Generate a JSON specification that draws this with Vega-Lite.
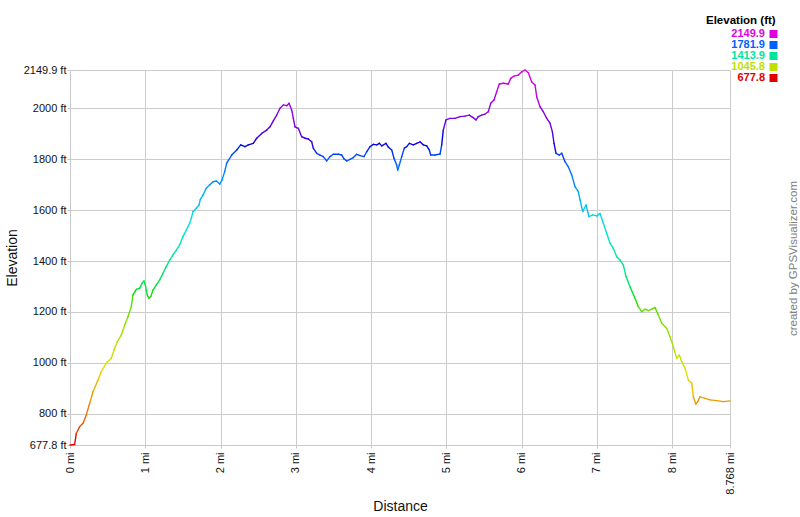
{
  "$schema": "https://vega.github.io/schema/vega-lite/v6.json",
  "width": 660,
  "height": 375,
  "autosize": {"type": "none"},
  "padding": {"left": 70, "top": 70, "right": 70, "bottom": 72},
  "background": "white",
  "config": {
    "font": "Liberation Sans",
    "view": {"stroke": null},
    "axis": {
      "gridColor": "#cccccc",
      "gridWidth": 1,
      "domainColor": "#c8c8c8",
      "tickColor": "#c8c8c8",
      "tickSize": 3,
      "labelFont": "Liberation Sans",
      "labelFontSize": 11,
      "labelColor": "#111111",
      "titleFont": "Liberation Sans",
      "titleFontSize": 14,
      "titleFontWeight": "normal",
      "titleColor": "#111111"
    }
  },
  "data": {
    "values": [
      {"d": 0, "e": 678}, {"d": 0.062, "e": 680}, {"d": 0.084, "e": 724}, {"d": 0.129, "e": 750},
      {"d": 0.173, "e": 763}, {"d": 0.217, "e": 796}, {"d": 0.262, "e": 842}, {"d": 0.306, "e": 887},
      {"d": 0.372, "e": 933}, {"d": 0.416, "e": 966}, {"d": 0.482, "e": 999}, {"d": 0.549, "e": 1018},
      {"d": 0.585, "e": 1051}, {"d": 0.628, "e": 1083}, {"d": 0.682, "e": 1110}, {"d": 0.727, "e": 1149},
      {"d": 0.771, "e": 1182}, {"d": 0.814, "e": 1221}, {"d": 0.837, "e": 1267}, {"d": 0.881, "e": 1289},
      {"d": 0.926, "e": 1293}, {"d": 0.957, "e": 1313}, {"d": 0.983, "e": 1322}, {"d": 1.0, "e": 1306},
      {"d": 1.027, "e": 1267}, {"d": 1.046, "e": 1254}, {"d": 1.072, "e": 1260}, {"d": 1.103, "e": 1286},
      {"d": 1.147, "e": 1306}, {"d": 1.192, "e": 1326}, {"d": 1.236, "e": 1352}, {"d": 1.279, "e": 1378},
      {"d": 1.325, "e": 1404}, {"d": 1.368, "e": 1424}, {"d": 1.412, "e": 1443}, {"d": 1.457, "e": 1463},
      {"d": 1.501, "e": 1496}, {"d": 1.545, "e": 1522}, {"d": 1.59, "e": 1548}, {"d": 1.612, "e": 1568},
      {"d": 1.634, "e": 1594}, {"d": 1.678, "e": 1607}, {"d": 1.714, "e": 1620}, {"d": 1.731, "e": 1642},
      {"d": 1.767, "e": 1659}, {"d": 1.811, "e": 1686}, {"d": 1.856, "e": 1699}, {"d": 1.9, "e": 1711},
      {"d": 1.944, "e": 1714}, {"d": 1.989, "e": 1702}, {"d": 2.019, "e": 1718}, {"d": 2.055, "e": 1751},
      {"d": 2.082, "e": 1784}, {"d": 2.148, "e": 1816}, {"d": 2.215, "e": 1836}, {"d": 2.268, "e": 1856},
      {"d": 2.325, "e": 1849}, {"d": 2.369, "e": 1856}, {"d": 2.435, "e": 1862}, {"d": 2.48, "e": 1882},
      {"d": 2.547, "e": 1901}, {"d": 2.613, "e": 1914}, {"d": 2.657, "e": 1927}, {"d": 2.701, "e": 1950},
      {"d": 2.746, "e": 1973}, {"d": 2.79, "e": 2000}, {"d": 2.834, "e": 2013}, {"d": 2.879, "e": 2010},
      {"d": 2.91, "e": 2019}, {"d": 2.945, "e": 1993}, {"d": 2.967, "e": 1960}, {"d": 2.989, "e": 1927},
      {"d": 3.033, "e": 1921}, {"d": 3.078, "e": 1888}, {"d": 3.122, "e": 1882}, {"d": 3.166, "e": 1879},
      {"d": 3.211, "e": 1868}, {"d": 3.232, "e": 1843}, {"d": 3.278, "e": 1823}, {"d": 3.321, "e": 1816},
      {"d": 3.365, "e": 1810}, {"d": 3.41, "e": 1793}, {"d": 3.454, "e": 1810}, {"d": 3.498, "e": 1819},
      {"d": 3.565, "e": 1819}, {"d": 3.61, "e": 1816}, {"d": 3.64, "e": 1801}, {"d": 3.676, "e": 1793},
      {"d": 3.72, "e": 1799}, {"d": 3.764, "e": 1806}, {"d": 3.809, "e": 1819}, {"d": 3.853, "e": 1814},
      {"d": 3.906, "e": 1810}, {"d": 3.942, "e": 1829}, {"d": 3.986, "e": 1849}, {"d": 4.03, "e": 1858},
      {"d": 4.075, "e": 1856}, {"d": 4.109, "e": 1862}, {"d": 4.141, "e": 1852}, {"d": 4.198, "e": 1862},
      {"d": 4.229, "e": 1847}, {"d": 4.274, "e": 1836}, {"d": 4.305, "e": 1803}, {"d": 4.34, "e": 1777},
      {"d": 4.354, "e": 1757}, {"d": 4.375, "e": 1777}, {"d": 4.407, "e": 1810}, {"d": 4.441, "e": 1843},
      {"d": 4.473, "e": 1849}, {"d": 4.508, "e": 1862}, {"d": 4.561, "e": 1856}, {"d": 4.606, "e": 1862},
      {"d": 4.65, "e": 1868}, {"d": 4.694, "e": 1856}, {"d": 4.739, "e": 1852}, {"d": 4.773, "e": 1836},
      {"d": 4.792, "e": 1816}, {"d": 4.849, "e": 1816}, {"d": 4.916, "e": 1820}, {"d": 4.938, "e": 1856},
      {"d": 4.959, "e": 1914}, {"d": 4.995, "e": 1954}, {"d": 5.048, "e": 1960}, {"d": 5.115, "e": 1960},
      {"d": 5.181, "e": 1967}, {"d": 5.248, "e": 1969}, {"d": 5.305, "e": 1973}, {"d": 5.35, "e": 1964},
      {"d": 5.394, "e": 1954}, {"d": 5.424, "e": 1967}, {"d": 5.47, "e": 1973}, {"d": 5.513, "e": 1977},
      {"d": 5.557, "e": 1986}, {"d": 5.589, "e": 2019}, {"d": 5.633, "e": 2032}, {"d": 5.669, "e": 2065},
      {"d": 5.703, "e": 2095}, {"d": 5.757, "e": 2098}, {"d": 5.823, "e": 2095}, {"d": 5.855, "e": 2117},
      {"d": 5.899, "e": 2126}, {"d": 5.956, "e": 2130}, {"d": 6.001, "e": 2143}, {"d": 6.045, "e": 2149.9},
      {"d": 6.089, "e": 2139}, {"d": 6.134, "e": 2103}, {"d": 6.178, "e": 2091}, {"d": 6.2, "e": 2045},
      {"d": 6.244, "e": 2006}, {"d": 6.288, "e": 1986}, {"d": 6.333, "e": 1960}, {"d": 6.377, "e": 1941},
      {"d": 6.408, "e": 1908}, {"d": 6.43, "e": 1862}, {"d": 6.457, "e": 1823}, {"d": 6.501, "e": 1816},
      {"d": 6.533, "e": 1823}, {"d": 6.576, "e": 1790}, {"d": 6.62, "e": 1770}, {"d": 6.665, "e": 1738},
      {"d": 6.709, "e": 1692}, {"d": 6.753, "e": 1672}, {"d": 6.776, "e": 1640}, {"d": 6.811, "e": 1594},
      {"d": 6.855, "e": 1620}, {"d": 6.895, "e": 1574}, {"d": 6.944, "e": 1581}, {"d": 6.997, "e": 1577},
      {"d": 7.041, "e": 1587}, {"d": 7.085, "e": 1548}, {"d": 7.13, "e": 1509}, {"d": 7.174, "e": 1470},
      {"d": 7.218, "e": 1450}, {"d": 7.263, "e": 1417}, {"d": 7.307, "e": 1404}, {"d": 7.351, "e": 1384},
      {"d": 7.387, "e": 1339}, {"d": 7.44, "e": 1299}, {"d": 7.506, "e": 1254}, {"d": 7.55, "e": 1221},
      {"d": 7.595, "e": 1201}, {"d": 7.639, "e": 1211}, {"d": 7.683, "e": 1205}, {"d": 7.728, "e": 1211},
      {"d": 7.772, "e": 1218}, {"d": 7.816, "e": 1188}, {"d": 7.861, "e": 1156}, {"d": 7.927, "e": 1136},
      {"d": 7.971, "e": 1103}, {"d": 8.015, "e": 1064}, {"d": 8.06, "e": 1018}, {"d": 8.095, "e": 1031},
      {"d": 8.127, "e": 1005}, {"d": 8.171, "e": 979}, {"d": 8.214, "e": 933}, {"d": 8.26, "e": 920},
      {"d": 8.281, "e": 867}, {"d": 8.313, "e": 839}, {"d": 8.339, "e": 848}, {"d": 8.37, "e": 867},
      {"d": 8.436, "e": 861}, {"d": 8.503, "e": 855}, {"d": 8.592, "e": 852}, {"d": 8.679, "e": 848},
      {"d": 8.768, "e": 851}
    ]
  },
  "layer": [
    {
      "transform": [
        {"window": [{"op": "lead", "field": "d", "as": "d2"}, {"op": "lead", "field": "e", "as": "e2"}], "sort": [{"field": "d", "order": "ascending"}]},
        {"filter": "isValid(datum.d2)"}
      ],
      "mark": {"type": "rule", "strokeWidth": 1.4, "strokeCap": "round"},
      "encoding": {
        "x": {
          "field": "d", "type": "quantitative",
          "scale": {"domain": [0, 8.768], "nice": false, "zero": false},
          "axis": {
            "values": [0, 1, 2, 3, 4, 5, 6, 7, 8, 8.768],
            "labelExpr": "format(datum.value, '.3~f') + ' mi'",
            "labelAngle": -90,
            "labelAlign": "right",
            "labelBaseline": "middle",
            "labelPadding": 4,
            "title": "Distance",
            "titleY": 61,
            "titleBaseline": "middle"
          }
        },
        "x2": {"field": "d2"},
        "y": {
          "field": "e", "type": "quantitative",
          "scale": {"domain": [677.8, 2149.9], "nice": false, "zero": false},
          "axis": {
            "values": [677.8, 800, 1000, 1200, 1400, 1600, 1800, 2000, 2149.9],
            "labelExpr": "format(datum.value, '.1~f') + ' ft'",
            "labelPadding": 1,
            "title": "Elevation",
            "titleX": -58,
            "titleBaseline": "middle",
            "orient": "left"
          }
        },
        "y2": {"field": "e2"},
        "color": {
          "field": "e", "type": "quantitative",
          "scale": {
            "type": "linear",
            "domain": [677.8, 972.22, 1266.64, 1561.06, 1855.48, 2149.9],
            "range": ["#e00000", "#e0e000", "#00e000", "#00e0e0", "#0000e0", "#e000e0"]
          },
          "legend": {
            "type": "symbol",
            "values": [2149.9, 1781.9, 1413.9, 1045.8, 677.8],
            "format": ".1f",
            "title": "Elevation (ft)",
            "titleFontSize": 11.5,
            "titleFontWeight": "bold",
            "titleColor": "#000000",
            "titleAnchor": "start",
            "titlePadding": 2,
            "symbolType": "square",
            "symbolSize": 64,
            "symbolStrokeWidth": 0,
            "labelFontSize": 11,
            "labelFontWeight": "bold",
            "rowPadding": -1,
            "padding": 0,
            "orient": "none",
            "legendX": 636,
            "legendY": -55,
            "encode": {
              "symbols": {"update": {"fill": {"scale": "color", "field": "value"}, "fillOpacity": {"value": 1}, "stroke": {"value": "transparent"}, "x": {"value": 67.5}}},
              "labels": {"update": {"fill": {"scale": "color", "field": "value"}, "x": {"value": 59}, "align": {"value": "right"}}}
            }
          }
        }
      }
    },
    {
      "mark": {"type": "rule", "opacity": 0},
      "encoding": {
        "y": {
          "datum": 677.8, "type": "quantitative",
          "axis": {
            "orient": "right",
            "labels": false, "ticks": false, "domain": false, "grid": false,
            "title": "created by GPSVisualizer.com",
            "titleAngle": -90,
            "titleX": 63,
            "titleY": 188,
            "titleBaseline": "middle",
            "titleFontSize": 11.5,
            "titleColor": "#808080"
          }
        }
      }
    }
  ],
  "resolve": {"axis": {"y": "independent"}}
}
